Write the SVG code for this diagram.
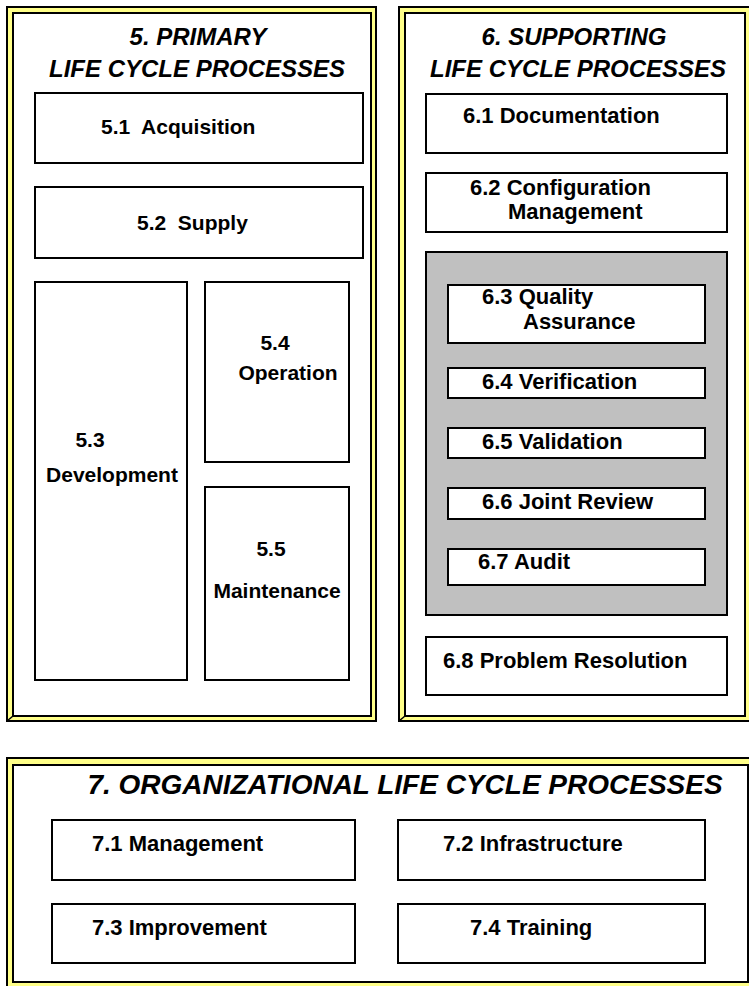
<svg xmlns="http://www.w3.org/2000/svg" width="749" height="986" viewBox="0 0 749 986">
<style>
.frameOut{fill:#ffff88;stroke:#000;stroke-width:2}
.frameIn{fill:#fff;stroke:#000;stroke-width:2}
.box{fill:#fff;stroke:#000;stroke-width:2}
.gray{fill:#c0c0c0;stroke:#000;stroke-width:2}
.bev{stroke:#000;stroke-width:1.5}
.t{font-family:"Liberation Sans",Arial,sans-serif;font-weight:bold;font-size:21px;fill:#000;white-space:pre}
.r{font-size:22px}
.h{font-family:"Liberation Sans",Arial,sans-serif;font-weight:bold;font-style:italic;font-size:24px;fill:#000;text-anchor:middle}
.h2{font-family:"Liberation Sans",Arial,sans-serif;font-weight:bold;font-style:italic;font-size:28px;fill:#000;text-anchor:middle}
.m{text-anchor:middle}
</style>
<rect width="749" height="986" fill="#fff"/>
<g id="primary">
<rect class="frameOut" x="7" y="7" width="369" height="714"/>
<rect class="frameIn" x="13" y="13" width="358" height="703"/>
<line class="bev" x1="7" y1="721" x2="13" y2="716"/>
<text class="h" x="198" y="45">5. PRIMARY</text>
<text class="h" x="197" y="77">LIFE CYCLE PROCESSES</text>
</g>
<g id="supporting">
<rect class="frameOut" x="399" y="7" width="370" height="714"/>
<rect class="frameIn" x="405" y="13" width="340" height="703"/>
<line class="bev" x1="399" y1="721" x2="405" y2="716"/>
<text class="h" x="574" y="45">6. SUPPORTING</text>
<text class="h" x="578" y="77">LIFE CYCLE PROCESSES</text>
</g>
<g id="organizational">
<rect class="frameOut" x="7" y="758" width="770" height="240"/>
<rect class="frameIn" x="13" y="765" width="735" height="217"/>
<text class="h2" x="405" y="794">7. ORGANIZATIONAL LIFE CYCLE PROCESSES</text>
</g>
<g id="n5_1"><rect class="box" x="35" y="93" width="328" height="70"/><text class="t" x="101" y="134" xml:space="preserve">5.1  Acquisition</text></g>
<g id="n5_2"><rect class="box" x="35" y="187" width="328" height="71"/><text class="t" x="137" y="230" xml:space="preserve">5.2  Supply</text></g>
<g id="n5_3"><rect class="box" x="35" y="282" width="152" height="398"/><text class="t m" x="90" y="447">5.3</text><text class="t m" x="112" y="482">Development</text></g>
<g id="n5_4"><rect class="box" x="205" y="282" width="144" height="180"/><text class="t m" x="275" y="350">5.4</text><text class="t m" x="288" y="380">Operation</text></g>
<g id="n5_5"><rect class="box" x="205" y="487" width="144" height="193"/><text class="t m" x="271" y="556">5.5</text><text class="t m" x="277" y="598">Maintenance</text></g>
<g id="n6_1"><rect class="box" x="426" y="94" width="301" height="59"/><text class="t r" x="463" y="123">6.1 Documentation</text></g>
<g id="n6_2"><rect class="box" x="426" y="173" width="301" height="59"/><text class="t r" x="470" y="195">6.2 Configuration</text><text class="t r" x="508" y="219">Management</text></g>
<g id="qa_group"><rect class="gray" x="426" y="252" width="301" height="363"/></g>
<g id="n6_3"><rect class="box" x="448" y="285" width="257" height="58"/><text class="t r" x="482" y="304">6.3 Quality</text><text class="t r" x="523" y="329">Assurance</text></g>
<g id="n6_4"><rect class="box" x="448" y="368" width="257" height="30"/><text class="t r" x="482" y="389">6.4 Verification</text></g>
<g id="n6_5"><rect class="box" x="448" y="428" width="257" height="30"/><text class="t r" x="482" y="449">6.5 Validation</text></g>
<g id="n6_6"><rect class="box" x="448" y="488" width="257" height="31"/><text class="t r" x="482" y="509">6.6 Joint Review</text></g>
<g id="n6_7"><rect class="box" x="448" y="549" width="257" height="36"/><text class="t r" x="478" y="569">6.7 Audit</text></g>
<g id="n6_8"><rect class="box" x="426" y="637" width="301" height="58"/><text class="t r" x="443" y="668">6.8 Problem Resolution</text></g>
<g id="n7_1"><rect class="box" x="52" y="820" width="303" height="60"/><text class="t r" x="92" y="851">7.1 Management</text></g>
<g id="n7_2"><rect class="box" x="398" y="820" width="307" height="60"/><text class="t r" x="443" y="851">7.2 Infrastructure</text></g>
<g id="n7_3"><rect class="box" x="52" y="904" width="303" height="59"/><text class="t r" x="92" y="935">7.3 Improvement</text></g>
<g id="n7_4"><rect class="box" x="398" y="904" width="307" height="59"/><text class="t r" x="470" y="935">7.4 Training</text></g>
<g id="connectors"/>
</svg>
